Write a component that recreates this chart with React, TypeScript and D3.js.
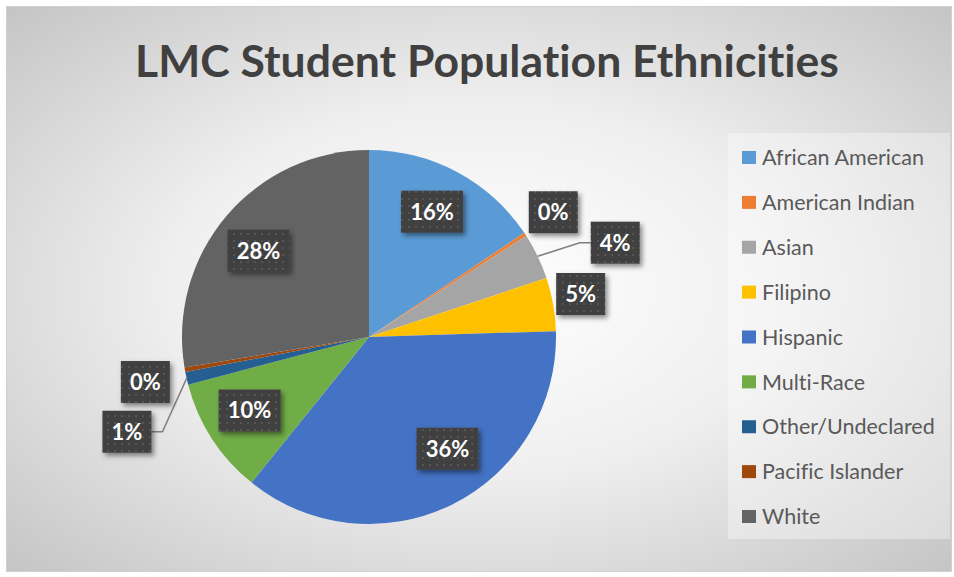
import * as d3 from "d3";
import React from "react";

const categories = [
  "African American",
  "American Indian",
  "Asian",
  "Filipino",
  "Hispanic",
  "Multi-Race",
  "Other/Undeclared",
  "Pacific Islander",
  "White",
];
const shares = [15.6, 0.3, 4.0, 4.6, 36.3, 10.1, 1.1, 0.4, 27.6];
const colors = [
  "#5B9BD5",
  "#ED7D31",
  "#A5A5A5",
  "#FFC000",
  "#4472C4",
  "#70AD47",
  "#255E91",
  "#9E480E",
  "#636363",
];

// label placement (best-fit look): radius factor and angle shift in degrees
const labelLayout = [
  { k: 0.75, shift: -1.4, leader: false },
  { k: 1.19, shift: -0.8, leader: false },
  { k: 1.41, shift: 4.6, leader: true },
  { k: 1.155, shift: -1.4, leader: false },
  { k: 0.73, shift: -8.6, leader: false },
  { k: 0.75, shift: 1.3, leader: false },
  { k: 1.39, shift: -8.6, leader: true },
  { k: 1.22, shift: -1.3, leader: false },
  { k: 0.75, shift: -2.3, leader: false },
];

const W = 954;
const H = 577;
const cx = 369;
const cy = 337;
const R = 187;

const font = "Lato, 'Open Sans', sans-serif";
// no ligatures (Lato joins "ti" / "fi" otherwise)
const noLig: React.CSSProperties = {
  fontVariantLigatures: "none",
  fontFeatureSettings: '"liga" 0, "clig" 0, "dlig" 0, "calt" 0',
  letterSpacing: "0.01px",
};

const App = () => {
  const total = d3.sum(shares);
  const pie = d3.pie<number>().sort(null).value((d) => d);
  const arcs = pie(shares);
  const arc = d3.arc<d3.PieArcDatum<number>>().innerRadius(0).outerRadius(R);

  const polar = (angle: number, r: number): [number, number] => [
    cx + r * Math.sin(angle),
    cy - r * Math.cos(angle),
  ];

  const legendY = d3
    .scalePoint<string>()
    .domain(categories)
    .range([157.5, 516.5]);

  const labels = arcs.map((a, i) => {
    const lay = labelLayout[i];
    const mid = (a.startAngle + a.endAngle) / 2;
    const ang = mid + (lay.shift * Math.PI) / 180;
    const [x, y] = polar(ang, R * lay.k);
    const text = `${Math.round((a.value / total) * 100)}%`;
    const bw = text.length === 3 ? 62 : 49;
    const bh = 42;
    let leader: string | null = null;
    if (lay.leader) {
      const [sx, sy] = polar(mid, R);
      const left = x < cx;
      const edge = left ? x + bw / 2 : x - bw / 2;
      const ex = left ? edge + 11 : edge - 11;
      leader = `M${sx},${sy}L${ex},${y}L${edge},${y}`;
    }
    return { x, y, text, bw, bh, leader };
  });

  return (
    <svg
      width={W}
      height={H}
      style={{ position: "absolute", left: 0, top: 0 }}
      fontFamily={font}
    >
      <defs>
        <radialGradient id="bg" cx="50%" cy="50%" r="72%">
          <stop offset="0" stopColor="#ffffff" />
          <stop offset="0.45" stopColor="#efefef" />
          <stop offset="1" stopColor="#c3c3c3" />
        </radialGradient>
        <pattern
          id="dots"
          width={7}
          height={7}
          patternUnits="userSpaceOnUse"
        >
          <rect width={7} height={7} fill="#404040" />
          <rect x={2} y={2} width={2} height={2} fill="#575757" />
        </pattern>
        <filter id="shadow" x="-20%" y="-20%" width="150%" height="160%">
          <feDropShadow
            dx={2.5}
            dy={3}
            stdDeviation={2.5}
            floodColor="#000"
            floodOpacity={0.45}
          />
        </filter>
      </defs>

      <rect width={W} height={H} fill="#ffffff" />
      <rect
        x={6.5}
        y={6.5}
        width={945}
        height={565}
        fill="url(#bg)"
        stroke="#d0d0d0"
        strokeWidth={1}
      />

      <text
        x={487}
        y={77}
        textAnchor="middle"
        fontSize={44.5}
        fontWeight={700}
        fill="#404040"
        style={noLig}
      >
        LMC Student Population Ethnicities
      </text>

      <g>
        {arcs.map((a, i) => (
          <path
            key={categories[i]}
            d={arc(a) ?? ""}
            transform={`translate(${cx},${cy})`}
            fill={colors[i]}
          />
        ))}
      </g>

      <g>
        {labels.map((l, i) =>
          l.leader ? (
            <path
              key={"ld" + i}
              d={l.leader}
              fill="none"
              stroke="#7f7f7f"
              strokeWidth={1.5}
            />
          ) : null
        )}
      </g>

      <g>
        {labels.map((l, i) => (
          <g key={"lb" + i}>
            <rect
              x={l.x - l.bw / 2}
              y={l.y - l.bh / 2}
              width={l.bw}
              height={l.bh}
              fill="url(#dots)"
              filter="url(#shadow)"
            />
            <text
              x={l.x}
              y={l.y}
              dy="0.36em"
              textAnchor="middle"
              fontSize={22}
              fontWeight={700}
              fill="#ffffff"
            >
              {l.text}
            </text>
          </g>
        ))}
      </g>

      <rect
        x={728}
        y={133}
        width={222}
        height={406}
        fill="#ffffff"
        fillOpacity={0.35}
      />
      <g>
        {categories.map((c, i) => {
          const y = legendY(c) ?? 0;
          return (
            <g key={"lg" + c}>
              <rect x={742} y={y - 6.5} width={14} height={13} fill={colors[i]} />
              <text
                x={762}
                y={y}
                dy="0.36em"
                fontSize={21.5}
                fill="#595959"
                style={noLig}
              >
                {c}
              </text>
            </g>
          );
        })}
      </g>
    </svg>
  );
};

export default App;
